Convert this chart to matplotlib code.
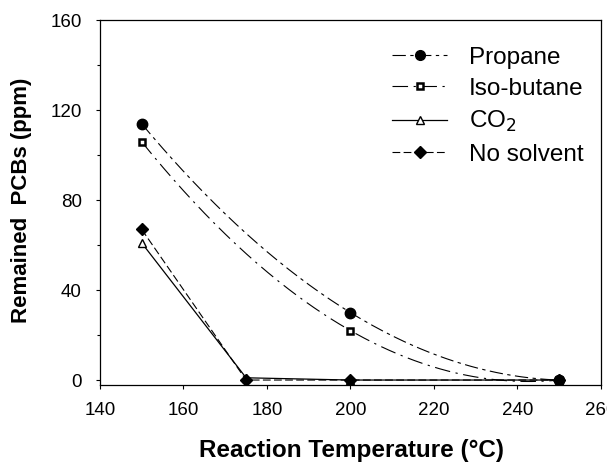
import matplotlib
matplotlib.use("Agg")
import matplotlib.pyplot as plt
import numpy as np

plt.rcParams['font.family'] = ['Liberation Sans', 'DejaVu Sans']

# data
temp_prop = [150, 200, 250]
propane = [114, 30, 0]
temp_iso = [150, 200, 250]
isobutane = [106, 22, 0]
temp_co2 = [150, 175, 200, 250]
co2 = [61, 1, 0, 0]
temp_ns = [150, 175, 200, 250]
no_solvent = [67, 0, 0, 0]

fig = plt.figure(figsize=(6.07, 4.63), dpi=100)
ax = fig.add_axes([0.1647, 0.1685, 0.8254, 0.7873])

def smooth(xs, ys):
    # quadratic curve through the points, like the original spline line
    c = np.polyfit(xs, ys, 2)
    xx = np.linspace(min(xs), max(xs), 200)
    return xx, np.polyval(c, xx)

d_prop = (12, 4, 3, 4)
d_iso = (14, 5, 2, 5)
d_ns = (7, 3)

xx, yy = smooth(temp_prop, propane)
ax.plot(xx, yy, color='k', lw=0.8, dashes=d_prop)
xx, yy = smooth(temp_iso, isobutane)
ax.plot(xx, yy, color='k', lw=0.8, dashes=d_iso)

ax.plot(temp_co2, co2, color='k', lw=0.9, ls='-')
ax.plot(temp_ns, no_solvent, color='k', lw=0.8, dashes=d_ns)

ax.plot(temp_prop, propane, 'o', color='k', ms=7.5)
ax.plot(temp_iso, isobutane, 's', mfc='white', mec='k', mew=1.8, ms=5)
ax.plot(temp_co2, co2, '^', mfc='white', mec='k', mew=1.0, ms=6)
ax.plot(temp_ns, no_solvent, 'D', color='k', ms=6.5)

# legend handles
h1, = ax.plot([], [], color='k', lw=0.8, dashes=d_prop, marker='o', ms=7)
h2, = ax.plot([], [], color='k', lw=0.8, dashes=d_iso, marker='s',
              mfc='white', mec='k', mew=1.8, ms=5)
h3, = ax.plot([], [], color='k', lw=0.9, marker='^', mfc='white', mec='k', ms=6)
h4, = ax.plot([], [], color='k', lw=0.8, dashes=d_ns, marker='D', ms=6.5)
ax.legend([h1, h2, h3, h4], ['Propane', 'Iso-butane', 'CO$_2$', 'No solvent'],
          loc='upper left', bbox_to_anchor=(0.583, 0.928), frameon=False,
          borderpad=0, borderaxespad=0,
          fontsize=17.5, handlelength=2.26, labelspacing=0.38, handletextpad=0.9)

ax.set_xlim(140, 260)
ax.set_ylim(-2.2, 160)
ax.set_xticks([140, 160, 180, 200, 220, 240, 260])
ax.set_yticks([0, 40, 80, 120, 160])
ax.set_yticks([20, 60, 100, 140], minor=True)
ax.tick_params(axis='both', direction='out', labelsize=13.5, length=3, width=0.8)
ax.tick_params(axis='x', pad=9)
ax.tick_params(axis='y', pad=10)
ax.tick_params(axis='y', which='minor', direction='out', length=2.5, width=0.8)
for s in ax.spines.values():
    s.set_linewidth(0.9)

ax.set_xlabel('Reaction Temperature (°C)', fontsize=17.5, fontweight='bold')
ax.set_ylabel('Remained  PCBs (ppm)', fontsize=16, fontweight='bold')
ax.xaxis.set_label_coords(0.502, -0.148)
ax.yaxis.set_label_coords(-0.136, 0.5075)

fig.savefig('out.png', dpi=100)
